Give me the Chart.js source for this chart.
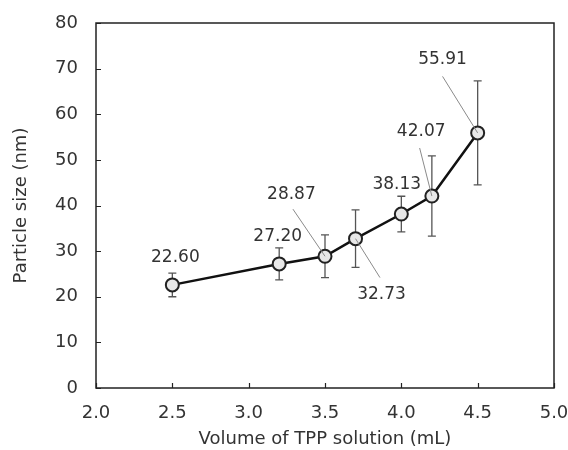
<!DOCTYPE html>
<html>
<head>
<meta charset="utf-8">
<script src="https://cdn.jsdelivr.net/npm/chart.js@4/dist/chart.umd.min.js"></script>
<style>
  html, body { margin: 0; padding: 0; background: #fff; }
  #wrap { width: 568px; height: 450px; }
</style>
</head>
<body>
<div id="wrap"><canvas id="chart"></canvas></div>
<script>
// Data
const volumes = [2.5, 3.2, 3.5, 3.7, 4.0, 4.2, 4.5];
const sizes = [22.60, 27.20, 28.87, 32.73, 38.13, 42.07, 55.91];
const errors = [2.6, 3.5, 4.7, 6.3, 3.9, 8.8, 11.4];
const valueLabels = ["22.60", "27.20", "28.87", "32.73", "38.13", "42.07", "55.91"];
const xTicks = [2.0, 2.5, 3.0, 3.5, 4.0, 4.5, 5.0];
const yTicks = [0, 10, 20, 30, 40, 50, 60, 70, 80];

// where each value label sits (data units) and whether a leader line is drawn
const labelLayout = [
  { x: 2.52, y: 28.6, leader: null },
  { x: 3.19, y: 33.1, leader: null },
  { x: 3.28, y: 42.3, leader: [3.29, 39.2] },
  { x: 3.87, y: 20.4, leader: [3.86, 24.2] },
  { x: 3.97, y: 44.5, leader: null },
  { x: 4.13, y: 56.1, leader: [4.12, 52.6] },
  { x: 4.27, y: 71.9, leader: [4.27, 68.3] }
];

const FONT = "'DejaVu Sans', 'Liberation Sans', sans-serif";
const TEXT = "#333";

// error bars, frame, inward ticks and value labels
const extras = {
  id: "extras",
  afterDatasetsDraw(chart) {
    const { ctx, chartArea: a, scales } = chart;
    const xs = scales.x, ys = scales.y;
    ctx.save();

    // frame
    ctx.strokeStyle = "#222";
    ctx.lineWidth = 1.5;
    ctx.strokeRect(a.left, a.top, a.right - a.left, a.bottom - a.top);

    // inward tick marks
    ctx.lineWidth = 1.2;
    ctx.beginPath();
    yTicks.forEach(v => {
      const y = Math.round(ys.getPixelForValue(v)) + 0.5;
      ctx.moveTo(a.left, y);
      ctx.lineTo(a.left + 5, y);
    });
    xTicks.forEach(v => {
      const x = Math.round(xs.getPixelForValue(v)) + 0.5;
      ctx.moveTo(x, a.bottom);
      ctx.lineTo(x, a.bottom - 5);
    });
    ctx.stroke();

    // leader lines
    ctx.strokeStyle = "#8a8a8a";
    ctx.lineWidth = 1;
    labelLayout.forEach((l, i) => {
      if (!l.leader) return;
      ctx.beginPath();
      ctx.moveTo(xs.getPixelForValue(l.leader[0]), ys.getPixelForValue(l.leader[1]));
      ctx.lineTo(xs.getPixelForValue(volumes[i]), ys.getPixelForValue(sizes[i]));
      ctx.stroke();
    });

    // value labels
    ctx.fillStyle = TEXT;
    ctx.font = "17px " + FONT;
    ctx.textAlign = "center";
    ctx.textBaseline = "middle";
    labelLayout.forEach((l, i) => {
      ctx.fillText(valueLabels[i], xs.getPixelForValue(l.x), ys.getPixelForValue(l.y));
    });
    ctx.restore();
  },
  beforeDatasetsDraw(chart) {
    const { ctx, scales } = chart;
    const xs = scales.x, ys = scales.y;
    ctx.save();
    ctx.strokeStyle = "#555";
    ctx.lineWidth = 1.3;
    volumes.forEach((v, i) => {
      const x = xs.getPixelForValue(v);
      const top = ys.getPixelForValue(sizes[i] + errors[i]);
      const bot = ys.getPixelForValue(sizes[i] - errors[i]);
      ctx.beginPath();
      ctx.moveTo(x, top); ctx.lineTo(x, bot);
      ctx.moveTo(x - 4, top); ctx.lineTo(x + 4, top);
      ctx.moveTo(x - 4, bot); ctx.lineTo(x + 4, bot);
      ctx.stroke();
    });
    ctx.restore();
  }
};

const ctx = document.getElementById("chart").getContext("2d");

new Chart(ctx, {
  type: "scatter",
  data: {
    datasets: [{
      data: volumes.map((v, i) => ({ x: v, y: sizes[i] })),
      showLine: true,
      borderColor: "#111",
      borderWidth: 2.5,
      pointRadius: 6.5,
      pointBorderWidth: 2,
      pointBorderColor: "#222",
      pointBackgroundColor: "#e8e8e8",
      tension: 0
    }]
  },
  plugins: [extras],
  options: {
    responsive: true,
    maintainAspectRatio: false,
    animation: false,
    events: [],
    layout: { padding: { left: 11, right: 14, top: 23, bottom: 0 } },
    plugins: {
      legend: { display: false },
      tooltip: { enabled: false }
    },
    scales: {
      x: {
        type: "linear",
        min: 2.0,
        max: 5.0,
        grid: { display: false },
        border: { display: false },
        afterBuildTicks: s => { s.ticks = xTicks.map(v => ({ value: v })); },
        afterFit: s => { s.height = 62; s.paddingLeft = 0; s.paddingRight = 0; },
        ticks: {
          color: TEXT,
          font: { family: FONT, size: 18 },
          padding: 7,
          callback: v => Number(v).toFixed(1)
        },
        title: {
          display: true,
          text: "Volume of TPP solution (mL)",
          color: TEXT,
          font: { family: FONT, size: 18 },
          padding: { top: 2, bottom: 0 }
        }
      },
      y: {
        min: 0,
        max: 80,
        grid: { display: false },
        border: { display: false },
        afterBuildTicks: s => { s.ticks = yTicks.map(v => ({ value: v })); },
        afterFit: s => { s.width = 85; s.paddingTop = 0; s.paddingBottom = 0; },
        ticks: {
          color: TEXT,
          font: { family: FONT, size: 18 },
          padding: 10
        },
        title: {
          display: true,
          text: "Particle size (nm)",
          color: TEXT,
          font: { family: FONT, size: 18 },
          padding: { top: 0, bottom: 20 }
        }
      }
    }
  }
});
</script>
</body>
</html>
